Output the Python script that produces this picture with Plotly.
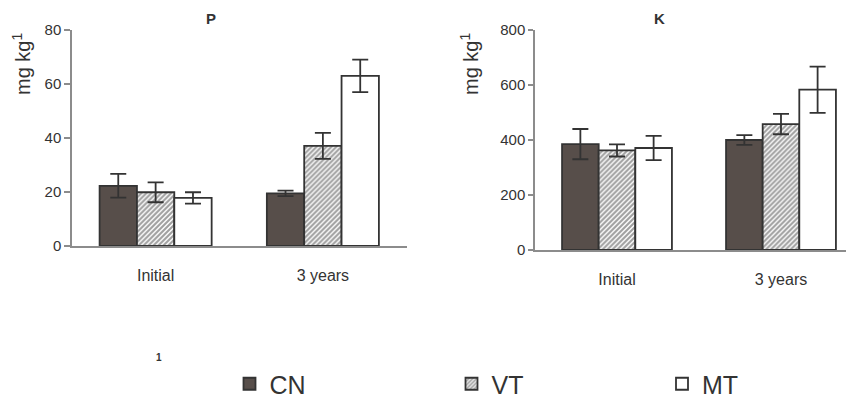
import plotly.graph_objects as go

categories = ["Initial", "3 years"]
treatments = ["CN", "VT", "MT"]

p_values = {"CN": [22.3, 19.5], "VT": [19.9, 37.1], "MT": [17.8, 63.0]}
p_errors = {"CN": [4.4, 1.0], "VT": [3.7, 4.8], "MT": [2.1, 6.0]}

k_values = {"CN": [385, 400], "VT": [362, 458], "MT": [371, 583]}
k_errors = {"CN": [55, 18], "VT": [22, 37], "MT": [44, 84]}

p_ticks = [0, 20, 40, 60, 80]
k_ticks = [0, 200, 400, 600, 800]

FONT = "Liberation Sans, Arial, sans-serif"
TXT = "#333333"
EDGE = "#333333"
W, H = 854, 399

styles = {
    "CN": dict(color="#574e4a"),
    "VT": dict(color="white", pattern=dict(shape="/", fgcolor="#3f3f3f", bgcolor="white", size=3.5, solidity=0.6)),
    "MT": dict(color="white"),
}
legend_ids = {"CN": "legend", "VT": "legend2", "MT": "legend3"}
legend_x = {"CN": 221.5, "VT": 443.5, "MT": 654}

fig = go.Figure()

for panel, (vals, errs, xa, ya) in enumerate([(p_values, p_errors, "x", "y"), (k_values, k_errors, "x2", "y2")]):
    for t in treatments:
        m = dict(styles[t])
        m["line"] = dict(color=EDGE, width=1.8)
        fig.add_trace(go.Bar(
            x=categories, y=vals[t], name=t,
            marker=m,
            error_y=dict(type="data", array=errs[t], color=EDGE, thickness=1.8, width=8),
            xaxis=xa, yaxis=ya,
            showlegend=(panel == 0),
            legend=legend_ids[t],
        ))

axis_common = dict(showgrid=False, zeroline=False, showline=True, linecolor="#8c8c8c", linewidth=1.5,
                   automargin=False)

fig.update_layout(
    width=W, height=H,
    margin=dict(l=0, r=0, t=0, b=0, pad=0),
    paper_bgcolor="white", plot_bgcolor="white",
    barmode="group", bargap=0.33, bargroupgap=0,
    font=dict(family=FONT, color=TXT),
    xaxis=dict(domain=[64/W, 398.5/W], range=[-0.5, 1.5], anchor="y", ticks="",
               tickfont=dict(size=16, color=TXT), ticklabelstandoff=14, **axis_common),
    yaxis=dict(domain=[(H-238)/H, (H-22)/H], range=[0, 80], anchor="x",
               tickvals=p_ticks, ticks="outside", ticklen=6, tickcolor="#8c8c8c", tickwidth=1.5,
               tickfont=dict(size=15, color=TXT), **axis_common),
    xaxis2=dict(domain=[527/W, 1.0], range=[-0.5, 1.494], anchor="y2", ticks="",
                tickfont=dict(size=16, color=TXT), ticklabelstandoff=14, **axis_common),
    yaxis2=dict(domain=[(H-242)/H, (H-22)/H], range=[0, 800], anchor="x2",
                tickvals=k_ticks, ticks="outside", ticklen=5, tickcolor="#8c8c8c", tickwidth=1.5,
                tickfont=dict(size=15, color=TXT), **axis_common),
)

for t in treatments:
    fig.update_layout({legend_ids[t]: dict(
        orientation="h", x=legend_x[t]/W, y=0, xanchor="left", yanchor="bottom",
        font=dict(size=25, color=TXT, family=FONT), bgcolor="rgba(0,0,0,0)", borderwidth=0)})

ann = [
    dict(text="<b>P</b>", x=203/W, y=(H-10)/H, font=dict(size=15)),
    dict(text="<b>K</b>", x=651/W, y=(H-10)/H, font=dict(size=15)),
    dict(text="mg kg<sup>1</sup>", x=13/W, y=(H-56)/H, textangle=-90, font=dict(size=20)),
    dict(text="mg kg<sup>1</sup>", x=461/W, y=(H-56)/H, textangle=-90, font=dict(size=20)),
    dict(text="<b>1</b>", x=151/W, y=(H-349)/H, font=dict(size=10)),
]
for a in ann:
    fig.add_annotation(xref="paper", yref="paper", showarrow=False, xanchor="center", yanchor="middle",
                       font=dict(family=FONT, color=TXT, size=a["font"]["size"]),
                       **{k: v for k, v in a.items() if k != "font"})

fig.write_html("out.html")
